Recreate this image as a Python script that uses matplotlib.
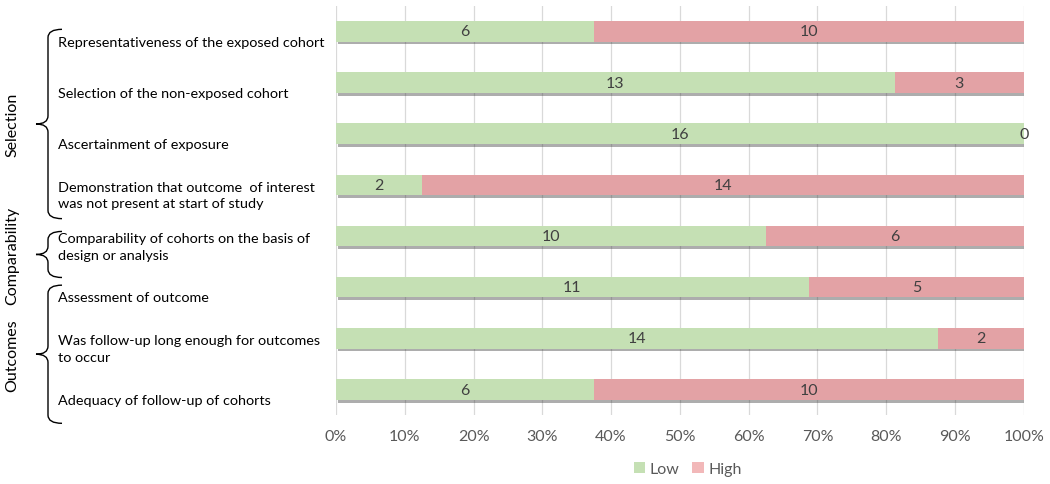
import numpy as np
import matplotlib
matplotlib.use("Agg")
import matplotlib.pyplot as plt
import matplotlib.patheffects as pe
import matplotlib.transforms as mtransforms
from matplotlib.path import Path
from matplotlib.patches import PathPatch, Patch

items = [
    "Representativeness of the exposed cohort",
    "Selection of the non-exposed cohort",
    "Ascertainment of exposure",
    "Demonstration that outcome  of interest\nwas not present at start of study",
    "Comparability of cohorts on the basis of\ndesign or analysis",
    "Assessment of outcome",
    "Was follow-up long enough for outcomes\nto occur",
    "Adequacy of follow-up of cohorts",
]
low = np.array([6, 13, 16, 2, 10, 11, 14, 6])
high = np.array([10, 3, 0, 14, 6, 5, 2, 10])
groups = ["Selection", "Comparability", "Outcomes"]
group_rows = [(0, 3), (4, 4), (5, 7)]

green = "#C5E0B4"
red = "#E3A2A5"
plt.rcParams["font.family"] = ["Lato", "DejaVu Sans"]

fig = plt.figure(figsize=(10.5, 4.85), dpi=100)
ax = fig.add_axes([0.32, 0.142, 0.655, 0.844])

total = low + high
low_pct = low / total * 100
high_pct = high / total * 100
y = np.arange(len(items))

shadow = [pe.SimplePatchShadow(offset=(1.5, -2.0), shadow_rgbFace="#333333", alpha=0.4), pe.Normal()]
b1 = ax.barh(y, low_pct, height=0.4, color=green, zorder=3)
b2 = ax.barh(y, high_pct, left=low_pct, height=0.4, color=red, zorder=3)
for b in list(b1) + list(b2):
    b.set_path_effects(shadow)

for i in range(len(items)):
    ax.text(low_pct[i] / 2, i, str(low[i]), ha="center", va="center", fontsize=11.5, color="#404040", zorder=5)
    ax.text(low_pct[i] + high_pct[i] / 2, i, str(high[i]), ha="center", va="center", fontsize=11.5, color="#404040", zorder=5)

ax.set_xlim(0, 100)
ax.set_ylim(len(items) - 0.5, -0.5)
ax.set_xticks(np.arange(0, 101, 10))
ax.set_xticklabels([f"{v}%" for v in range(0, 101, 10)])
ax.tick_params(axis="x", length=0, pad=10, labelsize=11.5, labelcolor="#595959")
ax.set_yticks([])
ax.grid(axis="x", color="#D9D9D9", lw=0.9, zorder=0)
for s in ax.spines.values():
    s.set_visible(False)

# category labels (slightly below bar centres, as in the original)
trans = mtransforms.blended_transform_factory(fig.transFigure, ax.transData)
for i, lab in enumerate(items):
    ax.text(58 / 1050, i + 0.2, lab, transform=trans, ha="left", va="center",
            fontsize=10.4, color="black", linespacing=1.45)

# braces
def brace(top, bottom):
    xt, xs, xp = 62 / 1050, 48 / 1050, 36 / 1050
    r = 0.16
    mid = (top + bottom) / 2
    verts = [(xt, top), (xs, top), (xs, top + r),
             (xs, mid - r), (xs, mid), (xp, mid),
             (xs, mid), (xs, mid + r),
             (xs, bottom - r), (xs, bottom), (xt, bottom)]
    codes = [Path.MOVETO, Path.CURVE3, Path.CURVE3,
             Path.LINETO, Path.CURVE3, Path.CURVE3,
             Path.CURVE3, Path.CURVE3,
             Path.LINETO, Path.CURVE3, Path.CURVE3]
    p = PathPatch(Path(verts, codes), transform=trans, fill=False, lw=1.0,
                  edgecolor="black", clip_on=False)
    ax.add_patch(p)
    return mid

for g, (r0, r1) in zip(groups, group_rows):
    top = r0 - 0.04
    bottom = r1 + 0.66
    if r0 == r1:
        top = r0 - 0.09
        bottom = r1 + 0.81
    mid = brace(top, bottom)
    ax.text(12 / 1050, mid, g, transform=trans, rotation=90, ha="center", va="center", fontsize=11.5)

handles = [Patch(facecolor=green), Patch(facecolor="#F2B8B9")]
fig.legend(handles=handles, labels=["Low", "High"], loc="center", bbox_to_anchor=(0.655, 0.031),
           ncol=2, frameon=False, fontsize=11.5, handlelength=0.7, handleheight=0.7,
           columnspacing=0.8, handletextpad=0.3, labelcolor="#595959")

fig.savefig("out.png", dpi=100)
